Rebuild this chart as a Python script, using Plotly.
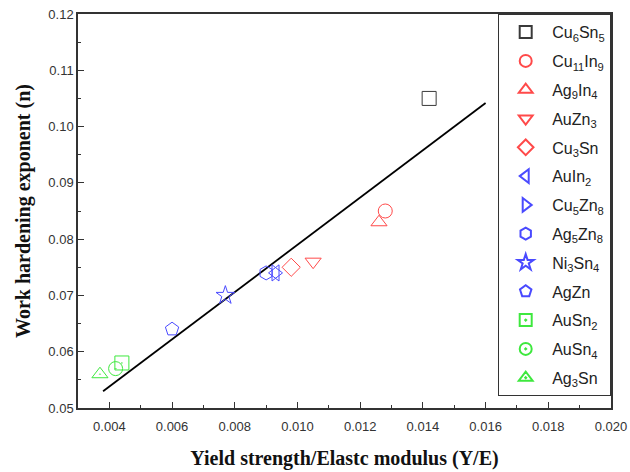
import plotly.graph_objects as go

# Intermetallic compounds: yield strength / elastic modulus vs. work hardening exponent
compounds = ["Cu<sub>6</sub>Sn<sub>5</sub>", "Cu<sub>11</sub>In<sub>9</sub>", "Ag<sub>9</sub>In<sub>4</sub>",
             "AuZn<sub>3</sub>", "Cu<sub>3</sub>Sn", "AuIn<sub>2</sub>", "Cu<sub>5</sub>Zn<sub>8</sub>",
             "Ag<sub>5</sub>Zn<sub>8</sub>", "Ni<sub>3</sub>Sn<sub>4</sub>", "AgZn", "AuSn<sub>2</sub>",
             "AuSn<sub>4</sub>", "Ag<sub>3</sub>Sn"]
y_over_e = [0.0142, 0.0128, 0.0126, 0.0105, 0.0098, 0.0093, 0.0093, 0.0090, 0.0077, 0.0060, 0.0044, 0.0042, 0.0037]
n_values = [0.105, 0.085, 0.083, 0.076, 0.075, 0.074, 0.074, 0.074, 0.070, 0.064, 0.058, 0.057, 0.056]

# Linear fit n = intercept + slope * (Y/E), drawn over this Y/E range
fit_slope = 4.2
fit_intercept = 0.037
fit_x_range = [0.0038, 0.0160]

symbols = ["square-open", "circle-open", "triangle-up-open", "triangle-down-open", "diamond-open",
           "triangle-left-open", "triangle-right-open", "hexagon-open", "star-open", "pentagon-open",
           "square-open-dot", "circle-open-dot", "triangle-up-open-dot"]
BLACK, RED, BLUE, GREEN = "#3a3a3a", "#ff4a4a", "#4a4aff", "#3ee83e"
colors = [BLACK, RED, RED, RED, RED, BLUE, BLUE, BLUE, BLUE, BLUE, GREEN, GREEN, GREEN]

fig = go.Figure()

fig.add_trace(go.Scatter(
    x=fit_x_range,
    y=[fit_intercept + fit_slope * v for v in fit_x_range],
    mode="lines", line=dict(color="black", width=1.8),
    showlegend=False, hoverinfo="skip",
))

for i, (name, xv, yv) in enumerate(zip(compounds, y_over_e, n_values)):
    fig.add_trace(go.Scatter(
        x=[xv], y=[yv], mode="markers", name=name, legendgroup=f"g{i}",
        marker=dict(symbol=symbols[i], size=14, color=colors[i], line=dict(width=1.0, color=colors[i])),
    ))

axis_common = dict(
    showline=True, linecolor="#333333", linewidth=1.5, mirror=True,
    ticks="inside", ticklen=6, tickwidth=1.2, tickcolor="#333333",
    showgrid=False, zeroline=False, automargin=False,
    tickfont=dict(family="Liberation Sans, Arial", size=13, color="#333333"),
    title_font=dict(family="Liberation Serif, Times New Roman", size=20, color="#111111"),
)

fig.update_xaxes(
    range=[0.003, 0.020], dtick=0.002, tick0=0.004, tickformat=".3f",
    minor=dict(dtick=0.001, tick0=0.003, ticks="inside", ticklen=3, tickcolor="#333333"),
    ticklabelstandoff=6,
    title_text="<b>Yield strength/Elastc modulus (Y/E)</b>", title_standoff=18,
    **axis_common,
)
fig.update_yaxes(
    range=[0.05, 0.12], dtick=0.01, tickformat=".2f",
    minor=dict(dtick=0.005, ticks="inside", ticklen=3, tickcolor="#333333"),
    title_text="<b>Work hardening exponent (n)</b>", title_standoff=12,
    **axis_common,
)

fig.update_layout(
    width=630, height=472,
    margin=dict(l=78, r=19, t=14, b=64),
    plot_bgcolor="white", paper_bgcolor="white",
    legend=dict(
        x=1, y=1, xanchor="right", yanchor="top",
        bordercolor="#333333", borderwidth=1.2, bgcolor="white",
        font=dict(family="Liberation Sans, Arial", size=16, color="#222222"),
        tracegroupgap=5, itemsizing="constant", itemwidth=43,
    ),
)

fig.write_html("out.html")
